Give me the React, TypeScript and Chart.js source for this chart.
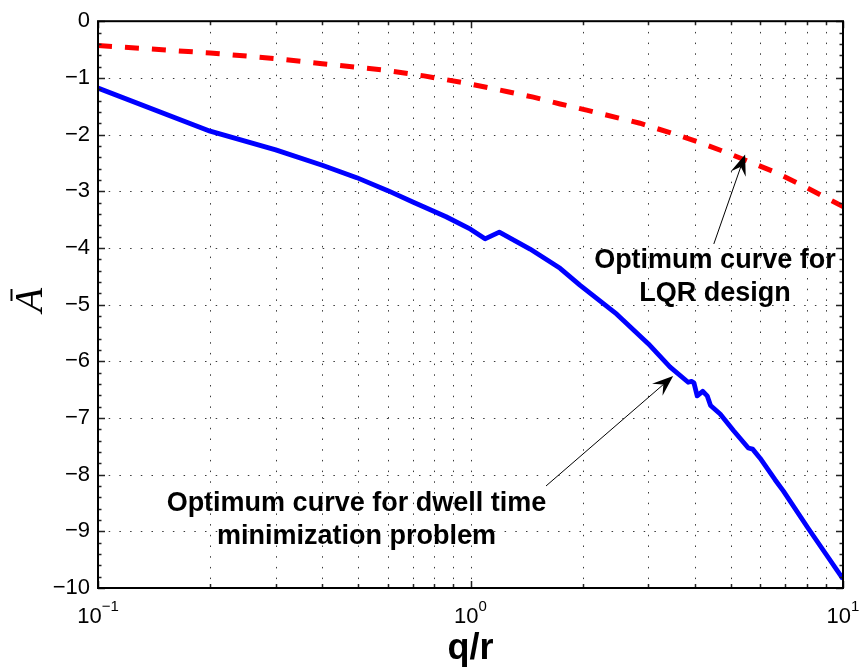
import React, { useEffect, useRef } from "react";
import { Chart, registerables } from "chart.js";

Chart.register(...registerables);

// ---- data ----
const dwellX = [0.1, 0.2, 0.3, 0.4, 0.495, 0.6, 0.7, 0.86, 1.0, 1.094, 1.195, 1.445, 1.74, 1.97, 2.47, 3.0, 3.43, 3.84, 3.92, 3.98, 4.06, 4.2, 4.32, 4.41, 4.68, 5.08, 5.57, 5.72, 5.99, 6.57, 6.92, 8.07, 10];
const dwellY = [-1.18, -1.94, -2.27, -2.54, -2.76, -2.99, -3.19, -3.45, -3.67, -3.84, -3.72, -4.02, -4.36, -4.66, -5.17, -5.69, -6.1, -6.37, -6.355, -6.38, -6.61, -6.53, -6.61, -6.78, -6.93, -7.22, -7.53, -7.55, -7.71, -8.09, -8.29, -8.95, -9.84];

const lqrX = [0.1, 0.2, 0.3, 0.4, 0.58, 0.75, 0.95, 1.25, 1.475, 1.74, 2.05, 2.85, 3.48, 4.09, 4.79, 6.5, 7.63, 8.85, 10];
const lqrY = [-0.43, -0.56, -0.66, -0.75, -0.86, -0.965, -1.08, -1.24, -1.34, -1.46, -1.57, -1.8, -1.98, -2.13, -2.3, -2.65, -2.87, -3.09, -3.27];

const xGridValues = [0.1, 0.2, 0.3, 0.4, 0.5, 0.6, 0.7, 0.8, 0.9, 1, 2, 3, 4, 5, 6, 7, 8, 9, 10];
const xDecades = [0.1, 1, 10];
const xDecadeExponents = ["\u22121", "0", "1"];
const yMin = -10;
const yMax = 0;
const yMinorStep = 0.2;

const xTitle = "q/r";
const yTitle = "A";

const lqrLabel = ["Optimum curve for", "LQR design"];
const dwellLabel = ["Optimum curve for dwell time", "minimization problem"];

// annotation anchors in data coordinates
const lqrLabelAnchor = { x: 4.53, y: [-4.35, -4.94] };
const dwellLabelAnchor = { x: 0.494, y: [-8.65, -9.22] };
const lqrArrow = { from: { x: 4.5, y: -3.93 }, to: { x: 5.46, y: -2.35 } };
const dwellArrow = { from: { x: 1.595, y: -8.2 }, to: { x: 3.5, y: -6.26 } };

const SANS = "'Liberation Sans', Arial, Helvetica, sans-serif";

function drawArrow(ctx: CanvasRenderingContext2D, x0: number, y0: number, x1: number, y1: number) {
  const dx = x1 - x0;
  const dy = y1 - y0;
  const len = Math.hypot(dx, dy);
  const ux = dx / len;
  const uy = dy / len;
  const px = -uy;
  const py = ux;
  const L = 21;
  const W = 8;
  const N = 13;
  ctx.save();
  ctx.strokeStyle = "#000";
  ctx.lineWidth = 1;
  ctx.beginPath();
  ctx.moveTo(x0, y0);
  ctx.lineTo(x1 - ux * N, y1 - uy * N);
  ctx.stroke();
  ctx.fillStyle = "#000";
  ctx.beginPath();
  ctx.moveTo(x1, y1);
  ctx.lineTo(x1 - ux * L + px * W, y1 - uy * L + py * W);
  ctx.lineTo(x1 - ux * N, y1 - uy * N);
  ctx.lineTo(x1 - ux * L - px * W, y1 - uy * L - py * W);
  ctx.closePath();
  ctx.fill();
  ctx.restore();
}

const overlay = {
  id: "overlay",
  beforeDatasetsDraw(chart: any) {
    const { ctx, chartArea: a, scales } = chart;
    const x = scales.x;
    const y = scales.y;
    ctx.save();
    ctx.strokeStyle = "#3a3a3a";
    ctx.lineWidth = 1;
    ctx.setLineDash([1.5, 9.2]);
    for (const v of xGridValues) {
      const px = Math.round(x.getPixelForValue(v)) + 0.5;
      if (px <= a.left + 1 || px >= a.right - 1) continue;
      ctx.beginPath();
      ctx.moveTo(px, a.top);
      ctx.lineTo(px, a.bottom);
      ctx.stroke();
    }
    for (let v = yMax - 1; v > yMin; v -= 1) {
      const py = Math.round(y.getPixelForValue(v)) + 0.5;
      ctx.beginPath();
      ctx.moveTo(a.left, py);
      ctx.lineTo(a.right, py);
      ctx.stroke();
    }
    ctx.restore();
  },
  afterDraw(chart: any) {
    const { ctx, chartArea: a, scales } = chart;
    const x = scales.x;
    const y = scales.y;
    ctx.save();

    // ticks (inward, on all four sides)
    ctx.strokeStyle = "#222";
    ctx.lineWidth = 1.5;
    ctx.setLineDash([]);
    for (const v of xGridValues) {
      const px = Math.round(x.getPixelForValue(v)) + 0.5;
      const major = xDecades.includes(v);
      const tl = major ? 7 : 4;
      ctx.beginPath();
      ctx.moveTo(px, a.bottom);
      ctx.lineTo(px, a.bottom - tl);
      ctx.moveTo(px, a.top);
      ctx.lineTo(px, a.top + tl);
      ctx.stroke();
    }
    const nMinor = Math.round((yMax - yMin) / yMinorStep);
    for (let i = 0; i <= nMinor; i++) {
      const v = yMin + i * yMinorStep;
      const major = i % 5 === 0;
      const tl = major ? 7 : 3.5;
      const py = Math.round(y.getPixelForValue(v)) + 0.5;
      ctx.beginPath();
      ctx.moveTo(a.left, py);
      ctx.lineTo(a.left + tl, py);
      ctx.moveTo(a.right, py);
      ctx.lineTo(a.right - tl, py);
      ctx.stroke();
    }

    // frame
    ctx.strokeStyle = "#000";
    ctx.lineWidth = 2;
    ctx.strokeRect(a.left, a.top, a.right - a.left, a.bottom - a.top);

    // x tick labels 10^n
    ctx.fillStyle = "#000";
    ctx.textBaseline = "alphabetic";
    ctx.textAlign = "left";
    xDecades.forEach((v, i) => {
      const px = x.getPixelForValue(v);
      ctx.font = `22px ${SANS}`;
      const bw = ctx.measureText("10").width;
      ctx.font = `15px ${SANS}`;
      const ew = ctx.measureText(xDecadeExponents[i]).width;
      const left = px - (bw + ew) / 2;
      ctx.font = `22px ${SANS}`;
      ctx.fillText("10", left, 623);
      ctx.font = `15px ${SANS}`;
      ctx.fillText(xDecadeExponents[i], left + bw, 611);
    });

    // x title
    ctx.font = `bold 36px ${SANS}`;
    ctx.textAlign = "center";
    ctx.fillText(xTitle, (a.left + a.right) / 2, 659);

    // y title: A with bar, rotated
    ctx.save();
    ctx.translate(28, 300);
    ctx.rotate(-Math.PI / 2);
    ctx.font = `italic 40px 'Liberation Serif', 'DejaVu Serif', serif`;
    ctx.textAlign = "center";
    ctx.textBaseline = "alphabetic";
    ctx.fillText(yTitle, 0, 14);
    ctx.lineWidth = 2;
    ctx.beginPath();
    ctx.moveTo(-1, -16.5);
    ctx.lineTo(11, -16.5);
    ctx.stroke();
    ctx.restore();

    // annotation texts
    ctx.font = `bold 27px ${SANS}`;
    ctx.textAlign = "center";
    ctx.fillStyle = "#000";
    lqrLabel.forEach((t, i) => {
      ctx.fillText(t, x.getPixelForValue(lqrLabelAnchor.x), y.getPixelForValue(lqrLabelAnchor.y[i]));
    });
    dwellLabel.forEach((t, i) => {
      ctx.fillText(t, x.getPixelForValue(dwellLabelAnchor.x), y.getPixelForValue(dwellLabelAnchor.y[i]));
    });

    // arrows
    drawArrow(
      ctx,
      x.getPixelForValue(lqrArrow.from.x), y.getPixelForValue(lqrArrow.from.y),
      x.getPixelForValue(lqrArrow.to.x), y.getPixelForValue(lqrArrow.to.y)
    );
    drawArrow(
      ctx,
      x.getPixelForValue(dwellArrow.from.x), y.getPixelForValue(dwellArrow.from.y),
      x.getPixelForValue(dwellArrow.to.x), y.getPixelForValue(dwellArrow.to.y)
    );

    ctx.restore();
  },
};

export default function App() {
  const ref = useRef<HTMLCanvasElement>(null);
  useEffect(() => {
    const canvas = ref.current;
    if (!canvas) return;
    const chart = new Chart(canvas, {
      type: "line",
      data: {
        datasets: [
          {
            label: "dwell",
            data: dwellX.map((v, i) => ({ x: v, y: dwellY[i] })),
            borderColor: "#0000ff",
            borderWidth: 4.8,
            pointRadius: 0,
            tension: 0,
            fill: false,
            borderJoinStyle: "round",
          },
          {
            label: "lqr",
            data: lqrX.map((v, i) => ({ x: v, y: lqrY[i] })),
            borderColor: "#ff0000",
            borderWidth: 5,
            borderDash: [14, 13],
            pointRadius: 0,
            tension: 0,
            fill: false,
          },
        ],
      },
      options: {
        responsive: false,
        animation: false,
        events: [],
        layout: { padding: { left: 0, right: 18, top: 11, bottom: 0 } },
        plugins: { legend: { display: false }, tooltip: { enabled: false } },
        scales: {
          x: {
            type: "logarithmic",
            min: 0.1,
            max: 10,
            grid: { display: false, drawTicks: false },
            border: { display: false },
            ticks: { display: false },
            afterBuildTicks: (s: any) => {
              s.ticks = xGridValues.map((v) => ({ value: v }));
            },
            afterFit: (s: any) => {
              s.height = 83;
            },
          },
          y: {
            type: "linear",
            min: yMin,
            max: yMax,
            grid: { display: false, drawTicks: false },
            border: { display: false },
            ticks: {
              stepSize: 1,
              color: "#000",
              padding: 8,
              font: { family: SANS, size: 22 },
              callback: (v: any) => (Number(v) < 0 ? "\u2212" + Math.abs(Number(v)) : String(v)),
            },
            afterFit: (s: any) => {
              s.width = 98;
            },
          },
        },
      } as any,
      plugins: [overlay],
    });
    return () => chart.destroy();
  }, []);
  return (
    <div style={{ position: "absolute", left: 0, top: 0, width: 861, height: 671, background: "#fff" }}>
      <canvas ref={ref} width={861} height={671} style={{ display: "block" }} />
    </div>
  );
}
